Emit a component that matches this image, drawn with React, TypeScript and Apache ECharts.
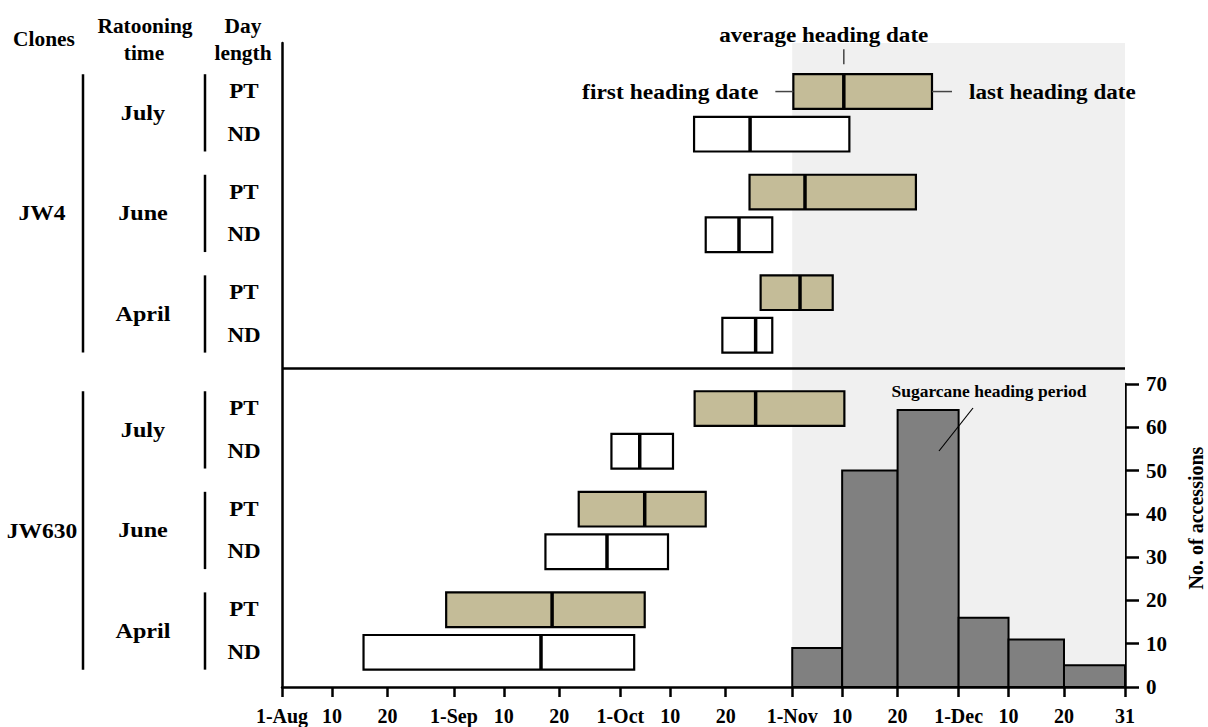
import React, { useEffect, useRef } from "react";
import * as echarts from "echarts";

// x axis: days counted from 1-Aug
const TICK_DAYS = [0, 9, 19, 31, 40, 50, 61, 70, 80, 92, 101, 111, 122, 131, 141, 152];
const TICK_LABELS = ["1-Aug", "10", "20", "1-Sep", "10", "20", "1-Oct", "10", "20", "1-Nov", "10", "20", "1-Dec", "10", "20", "31"];

const CLONES = ["JW4", "JW630"];
const RATOONING = ["July", "June", "April"];
const DAY_LENGTHS = ["PT", "ND"];

// [first heading, last heading, average heading] in days since 1-Aug, rows July, June, April
const JW4_PT = [[92.2, 117.2, 101.3], [84.3, 114.3, 94.3], [86.3, 99.3, 93.4]];
const JW4_ND = [[74.3, 102.3, 84.4], [76.4, 88.4, 82.4], [79.4, 88.4, 85.4]];
const JW630_PT = [[74.4, 101.4, 85.4], [53.5, 76.4, 65.4], [29.6, 65.4, 48.7]];
const JW630_ND = [[59.4, 70.5, 64.5], [47.5, 69.6, 58.6], [14.7, 63.5, 46.7]];

// sugarcane heading period histogram
const HIST_START = [92, 101, 111, 122, 131, 141];
const HIST_END = [101, 111, 122, 131, 141, 152];
const HIST_COUNT = [9, 50, 64, 16, 11, 5];

const PERIOD_START = 92;
const PERIOD_END = 152;

// layout (row positions on hidden axis)
const ROW_BASE = 0.98;
const RATOON_STEP = 2.03;
const CLONE_STEP = 6.4;
const DL_STEP = 0.86;
const BOX_H = 0.7;
const PANEL_DIVIDER = 6.56;

const FONT = '"Liberation Serif", "Times New Roman", serif';
const rowPos = (c: number, r: number, d: number) => ROW_BASE + r * RATOON_STEP + c * CLONE_STEP + d * DL_STEP;

const DATA: Record<string, number[][]> = { JW4_PT, JW4_ND, JW630_PT, JW630_ND };

function buildBoxes(d: number) {
  const out: number[][] = [];
  CLONES.forEach((cl, c) => {
    const arr = DATA[cl + "_" + DAY_LENGTHS[d]];
    arr.forEach((v, r) => out.push([v[0], v[1], v[2], rowPos(c, r, d)]));
  });
  return out;
}

const boxRender = (fill: string) => (params: any, api: any) => {
  const y = api.value(3);
  const s = api.coord([api.value(0), y]);
  const e = api.coord([api.value(1), y]);
  const m = api.coord([api.value(2), y]);
  const h = api.size([0, BOX_H])[1];
  return {
    type: "group",
    children: [
      { type: "rect", shape: { x: s[0], y: s[1] - h / 2, width: e[0] - s[0], height: h }, style: { fill, stroke: "#000", lineWidth: 2.2 } },
      { type: "line", shape: { x1: m[0], y1: s[1] - h / 2, x2: m[0], y2: s[1] + h / 2 }, style: { stroke: "#000", lineWidth: 3.5 } },
    ],
  };
};

export default function App() {
  const ref = useRef<HTMLDivElement>(null);
  useEffect(() => {
    document.body.style.margin = "0";
    const chart = echarts.init(ref.current!, null, { renderer: "svg" });
    const labelFont = { fontFamily: FONT, fontWeight: "bold" as const, color: "#000" };
    const option: any = {
      animation: false,
      backgroundColor: "#fff",
      grid: [
        { left: 282, right: 83, top: 43, bottom: 40 },
        { left: 282, right: 83, top: 384, bottom: 40 },
      ],
      xAxis: [
        {
          type: "value", gridIndex: 0, min: 0, max: 152, position: "bottom",
          axisLine: { show: true, onZero: false, lineStyle: { color: "#000", width: 2.5 } },
          axisTick: { show: true, length: 10, lineStyle: { color: "#000", width: 2.5 }, customValues: TICK_DAYS },
          axisLabel: {
            ...labelFont, fontSize: 20, margin: 19, customValues: TICK_DAYS,
            formatter: (v: number) => { const i = TICK_DAYS.indexOf(v); return i >= 0 ? TICK_LABELS[i] : ""; },
          },
          splitLine: { show: false },
        },
        { type: "value", gridIndex: 1, min: 0, max: 152, show: false },
      ],
      yAxis: [
        {
          type: "value", gridIndex: 0, min: 0, max: 13, inverse: true, position: "left",
          axisLine: { show: true, onZero: false, lineStyle: { color: "#000", width: 2.5 } },
          axisTick: { show: false }, axisLabel: { show: false }, splitLine: { show: false },
        },
        {
          type: "value", gridIndex: 1, position: "right", min: 0, max: 70, interval: 10,
          axisLine: { show: true, onZero: false, lineStyle: { color: "#000", width: 2.5 } },
          axisTick: { show: true, inside: false, length: 14, lineStyle: { color: "#000", width: 2.5 } },
          axisLabel: { ...labelFont, fontSize: 21, margin: 21 },
          splitLine: { show: false },
        },
      ],
      series: [
        {
          type: "custom", name: "shade", xAxisIndex: 0, yAxisIndex: 0, z: 1, data: [],
          renderItem: () => null,
          markArea: { silent: true, itemStyle: { color: "#f0f0f0" }, data: [[{ xAxis: PERIOD_START }, { xAxis: PERIOD_END }]] },
          markLine: {
            silent: true, symbol: "none", label: { show: false },
            lineStyle: { color: "#000", width: 2.5, type: "solid" },
            data: [{ yAxis: PANEL_DIVIDER }],
          },
        },
        {
          type: "custom", name: "histogram", xAxisIndex: 1, yAxisIndex: 1, z: 3,
          data: HIST_COUNT.map((n, i) => [HIST_START[i], HIST_END[i], n]),
          renderItem: (params: any, api: any) => {
            const p0 = api.coord([api.value(0), api.value(2)]);
            const p1 = api.coord([api.value(1), 0]);
            return { type: "rect", shape: { x: p0[0], y: p0[1], width: p1[0] - p0[0], height: p1[1] - p0[1] }, style: { fill: "#808080", stroke: "#000", lineWidth: 2 } };
          },
        },
        {
          type: "custom", name: "PT", xAxisIndex: 0, yAxisIndex: 0, z: 4,
          data: buildBoxes(0), encode: { x: [0, 1, 2], y: 3 }, renderItem: boxRender("#c4bc98"),
        },
        {
          type: "custom", name: "ND", xAxisIndex: 0, yAxisIndex: 0, z: 4,
          data: buildBoxes(1), encode: { x: [0, 1, 2], y: 3 }, renderItem: boxRender("#ffffff"),
        },
      ],
    };
    chart.setOption(option);

    const py = (v: number) => chart.convertToPixel({ yAxisIndex: 0 }, v) as number;
    const px = (v: number) => chart.convertToPixel({ xAxisIndex: 0 }, v) as number;
    const halfH = (py(BOX_H) - py(0)) / 2;
    const txt = (text: string, x: number, y: number, size: number, align = "center", sx = 1.12, rot = 0) => ({
      type: "text", x, y, z: 10, scaleX: sx, rotation: rot,
      style: { text, fill: "#000", font: `bold ${size}px ${FONT}`, textAlign: align, textVerticalAlign: "middle" },
    });
    const ln = (x1: number, y1: number, x2: number, y2: number, w = 2.5, color = "#000") => ({
      type: "line", z: 10, shape: { x1, y1, x2, y2 }, style: { stroke: color, lineWidth: w },
    });
    const g: any[] = [];
    g.push(txt("Clones", 44, 39, 20, "center", 1.07));
    g.push(txt("Ratooning", 145, 26, 20, "center", 1.07));
    g.push(txt("time", 144, 53, 20, "center", 1.07));
    g.push(txt("Day", 243, 26, 20, "center", 1.07));
    g.push(txt("length", 243, 53, 20, "center", 1.07));
    CLONES.forEach((cl, c) => {
      const top = py(rowPos(c, 0, 0)) - halfH;
      const bot = py(rowPos(c, RATOONING.length - 1, 1)) + halfH;
      g.push(txt(cl, 42, (top + bot) / 2, 21, "center", 1.12));
      g.push(ln(83, top, 83, bot));
      RATOONING.forEach((rt, r) => {
        const t = py(rowPos(c, r, 0)) - halfH;
        const b = py(rowPos(c, r, 1)) + halfH;
        g.push(txt(rt, 143, (t + b) / 2, 21, "center", 1.15));
        g.push(ln(205, t, 205, b));
        DAY_LENGTHS.forEach((dl, d) => g.push(txt(dl, 244, py(rowPos(c, r, d)), 20, "center", 1.15)));
      });
    });
    // legend-like annotations on the first box
    const ref0 = JW4_PT[0];
    const y0 = py(rowPos(0, 0, 0));
    const xs = px(ref0[0]);
    const xe = px(ref0[1]);
    const xm = px(ref0[2]);
    g.push(ln(xs - 18, y0, xs, y0, 1.5, "#444"));
    g.push(ln(xe, y0, xe + 20, y0, 1.5, "#444"));
    g.push(ln(xm, y0 - halfH - 25, xm, y0 - halfH - 10, 1.5, "#444"));
    g.push(txt("first heading date", xs - 35, y0, 21, "right", 1.12));
    g.push(txt("last heading date", xe + 37, y0, 21, "left", 1.1));
    g.push(txt("average heading date", xm - 20, y0 - halfH - 39, 21, "center", 1.1));
    // histogram annotation
    g.push(txt("Sugarcane heading period", 989, 392, 17, "center", 1.03));
    g.push(ln(939, 451, 973, 408, 1.2));
    // right axis title
    g.push(txt("No. of accessions", 1196, 518, 20, "center", 1, Math.PI / 2));
    chart.setOption({ graphic: g });
    return () => chart.dispose();
  }, []);
  return <div ref={ref} style={{ width: 1208, height: 727 }} />;
}
